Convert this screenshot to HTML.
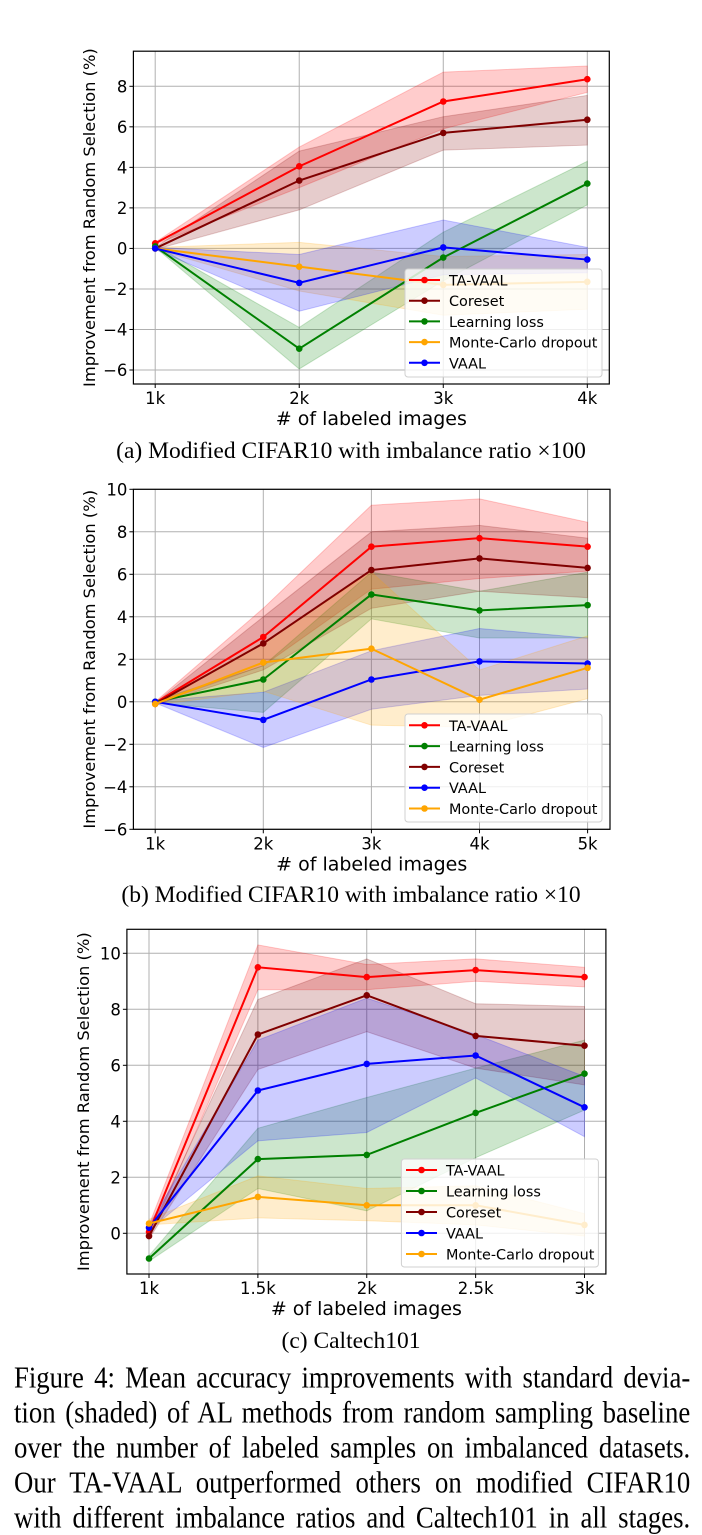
<!DOCTYPE html>
<html><head><meta charset="utf-8">
<style>
body{margin:0;background:#fff;width:702px;height:1534px;overflow:hidden;position:relative;font-family:"Liberation Serif",serif;}
svg{position:absolute;left:0;top:0}
.cap{position:absolute;left:0;width:702px;text-align:center;font-family:"Liberation Serif",serif;font-size:23.5px;color:#000;white-space:nowrap}
.fig{position:absolute;left:14px;width:632px;font-family:"Liberation Serif",serif;font-size:25px;line-height:25px;text-align:justify;text-align-last:justify;transform-origin:0 0;transform:scale(1.07,1.22);white-space:nowrap;color:#000}
</style></head><body>
<svg id="svg" width="702" height="1534"></svg>
<div class="cap" style="top:438px">(a) Modified CIFAR10 with imbalance ratio ×100</div>
<div class="cap" style="top:882px">(b) Modified CIFAR10 with imbalance ratio ×10</div>
<div class="cap" style="top:1328px">(c) Caltech101</div>
<div class="fig" style="top:1363px">Figure 4: Mean accuracy improvements with standard devia-</div>
<div class="fig" style="top:1398px">tion (shaded) of AL methods from random sampling baseline</div>
<div class="fig" style="top:1433px">over the number of labeled samples on imbalanced datasets.</div>
<div class="fig" style="top:1468px">Our TA-VAAL outperformed others on modified CIFAR10</div>
<div class="fig" style="top:1503px">with different imbalance ratios and Caltech101 in all stages.</div>
<script>
// ---- Chart A data ----
const aCats=["1k","2k","3k","4k"];
const aX=[1,2,3,4];
const aTA=[0.25,4.05,7.25,8.35], aTAhi=[0.3,5.0,8.7,9.0], aTAlo=[0.2,3.0,5.9,7.7];
const aCore=[0,3.35,5.7,6.35], aCorehi=[0.05,4.8,6.5,7.55], aCorelo=[-0.05,1.9,4.85,5.1];
const aLL=[0.1,-4.95,-0.45,3.2], aLLhi=[0.15,-3.9,0.8,4.3], aLLlo=[0.05,-5.95,-1.6,2.15];
const aMC=[0,-0.9,-1.8,-1.65], aMChi=[0.05,0.3,-0.4,-0.3], aMClo=[-0.05,-2.1,-3.3,-3.0];
const aVA=[0,-1.7,0.05,-0.55], aVAhi=[0.05,-0.3,1.4,0.05], aVAlo=[-0.05,-3.1,-1.3,-1.2];
const aYTicks=[-6,-4,-2,0,2,4,6,8];
// ---- Chart B data ----
const bCats=["1k","2k","3k","4k","5k"];
const bX=[1,2,3,4,5];
const bTA=[-0.05,3.05,7.3,7.7,7.3], bTAhi=[0,4.4,9.25,9.55,8.45], bTAlo=[-0.1,1.7,5.3,5.8,6.15];
const bLL=[0,1.05,5.05,4.3,4.55], bLLhi=[0.05,1.7,6.1,5.2,6.1], bLLlo=[-0.05,-0.5,3.9,3.0,3.0];
const bCore=[-0.1,2.75,6.2,6.75,6.3], bCorehi=[-0.05,4.0,8.0,8.3,7.7], bCorelo=[-0.15,1.5,4.4,5.2,4.9];
const bVA=[0,-0.85,1.05,1.9,1.8], bVAhi=[0.05,0.45,2.4,3.45,3.0], bVAlo=[-0.05,-2.15,-0.35,0.3,0.6];
const bMC=[-0.1,1.85,2.5,0.1,1.6], bMChi=[-0.05,2.8,6.1,1.5,3.1], bMClo=[-0.15,0.5,-1.1,-1.2,0.15];
const bYTicks=[-6,-4,-2,0,2,4,6,8,10];
// ---- Chart C data ----
const cCats=["1k","1.5k","2k","2.5k","3k"];
const cX=[1,1.5,2,2.5,3];
const cTA=[0.05,9.5,9.15,9.4,9.15], cTAhi=[0.3,10.3,9.6,9.8,9.5], cTAlo=[-0.2,8.7,8.7,9.0,8.8];
const cLL=[-0.9,2.65,2.8,4.3,5.7], cLLhi=[-0.8,3.75,4.85,5.9,6.9], cLLlo=[-1.0,1.6,0.8,2.7,4.4];
const cCore=[-0.1,7.1,8.5,7.05,6.7], cCorehi=[0,8.35,9.8,8.2,8.1], cCorelo=[-0.2,5.85,7.2,5.9,5.3];
const cVA=[0.2,5.1,6.05,6.35,4.5], cVAhi=[0.3,6.9,8.4,7.1,5.6], cVAlo=[0.1,3.3,3.6,5.55,3.45];
const cMC=[0.35,1.3,1.0,1.0,0.3], cMChi=[0.5,2.05,1.6,1.7,0.7], cMClo=[0.3,0.55,0.45,0.3,-0.1];
const cYTicks=[0,2,4,6,8,10];

const NS="http://www.w3.org/2000/svg";
const svg=document.getElementById('svg');
function mk(tag,attrs,parent){const e=document.createElementNS(NS,tag);for(const k in attrs)e.setAttribute(k,attrs[k]);(parent||svg).appendChild(e);return e;}
const COL={"TA-VAAL":"#ff0000","Coreset":"#800000","Learning loss":"#008000","Monte-Carlo dropout":"#ffa500","VAAL":"#0000ff"};

function chart(cfg){
  const g=mk('g',{});
  
  
  const sx=v=>cfg.px0+(v-cfg.x0)*(cfg.px1-cfg.px0)/(cfg.x1-cfg.x0);
  const sy=v=>cfg.py0+(v-cfg.y0)*(cfg.py1-cfg.py0)/(cfg.y1-cfg.y0);
  const F='"DejaVu Sans","Liberation Sans",sans-serif';
  cfg.xs.forEach((v,i)=>{const l=mk('line',{x1:sx(v),x2:sx(v),y1:cfg.top,y2:cfg.bottom,stroke:'#b0b0b0','stroke-width':1},g);
    });
  cfg.yt.forEach(v=>{const l=mk('line',{x1:cfg.left,x2:cfg.right,y1:sy(v),y2:sy(v),stroke:'#b0b0b0','stroke-width':1},g);
    });
  cfg.series.forEach(s=>{
    let d='M'+cfg.xs.map((v,i)=>sx(v)+','+sy(s.hi[i])).join('L')+'L'+cfg.xs.slice().reverse().map((v,j)=>{const i=cfg.xs.length-1-j;return sx(v)+','+sy(s.lo[i]);}).join('L')+'Z';
    const p=mk('path',{d:d,fill:COL[s.n],'fill-opacity':0.2,stroke:COL[s.n],'stroke-opacity':0.2,'stroke-width':1},g);
    
    
  });
  cfg.series.forEach(s=>{
    const pl=mk('polyline',{points:cfg.xs.map((v,i)=>sx(v)+','+sy(s.m[i])).join(' '),fill:'none',stroke:COL[s.n],'stroke-width':2},g);
    
    
    cfg.xs.forEach((v,i)=>{const c=mk('circle',{cx:sx(v),cy:sy(s.m[i]),r:3.3,fill:COL[s.n]},g);
      });
  });
  const fr=mk('rect',{x:cfg.left,y:cfg.top,width:cfg.right-cfg.left,height:cfg.bottom-cfg.top,fill:'none',stroke:'#000','stroke-width':1.2},g);
  
  cfg.xs.forEach((v,i)=>{mk('line',{x1:sx(v),x2:sx(v),y1:cfg.bottom,y2:cfg.bottom+4,stroke:'#000'},g);
    const t=mk('text',{x:sx(v),y:cfg.bottom+20,'text-anchor':'middle','font-family':F,'font-size':16.5},g);t.textContent=cfg.cats[i];
    });
  cfg.yt.forEach(v=>{mk('line',{x1:cfg.left-4,x2:cfg.left,y1:sy(v),y2:sy(v),stroke:'#000'},g);
    const t=mk('text',{x:cfg.left-6,y:sy(v)+6,'text-anchor':'end','font-family':F,'font-size':16.5},g);t.textContent=(v<0?'\u2212'+(-v):v);
    });
  const xl=mk('text',{x:(cfg.left+cfg.right)/2,y:cfg.bottom+41,'text-anchor':'middle','font-family':F,'font-size':19},g);xl.textContent='# of labeled images';
  
  const ycx=cfg.ylx, ycy=(cfg.top+cfg.bottom)/2;
  const yl=mk('text',{x:ycx,y:ycy,'text-anchor':'middle','font-family':F,'font-size':16.3,transform:'rotate(-90 '+ycx+' '+ycy+')'},g);yl.textContent='Improvement from Random Selection (%)';
  
  const L=cfg.leg;
  const lb=mk('rect',{x:L.x,y:L.y,width:L.w,height:L.h,rx:3,fill:'#fff','fill-opacity':0.8,stroke:'#d0d0d0'},g);
  
  cfg.series.forEach((s,i)=>{const yy=L.r0+i*L.dy;
    mk('line',{x1:L.hx,x2:L.hx+31,y1:yy,y2:yy,stroke:COL[s.n],'stroke-width':2},g);
    mk('circle',{cx:L.hx+15.5,cy:yy,r:3.3,fill:COL[s.n]},g);
    const t=mk('text',{x:L.hx+40,y:yy+5.5,'font-family':F,'font-size':14.4},g);t.textContent=s.n;
    });
}

chart({name:'chart-a',cats:aCats,xs:aX,x0:1,x1:4,px0:155.2,px1:587.3,y0:8,y1:-6,py0:86.3,py1:370,
  left:133.4,right:609.3,top:51.2,bottom:384,yt:aYTicks,ylx:95,
  leg:{x:405,y:269,w:197,h:108,hx:409,r0:280,dy:20.7},
  series:[{n:'TA-VAAL',m:aTA,hi:aTAhi,lo:aTAlo},{n:'Coreset',m:aCore,hi:aCorehi,lo:aCorelo},{n:'Learning loss',m:aLL,hi:aLLhi,lo:aLLlo},{n:'Monte-Carlo dropout',m:aMC,hi:aMChi,lo:aMClo},{n:'VAAL',m:aVA,hi:aVAhi,lo:aVAlo}]});
chart({name:'chart-b',cats:bCats,xs:bX,x0:1,x1:5,px0:155.2,px1:587.6,y0:10,y1:-6,py0:489.3,py1:829.3,
  left:133.4,right:610,top:489.3,bottom:829.3,yt:bYTicks,ylx:95,
  leg:{x:405,y:714,w:197,h:108,hx:409,r0:725.3,dy:20.8},
  series:[{n:'TA-VAAL',m:bTA,hi:bTAhi,lo:bTAlo},{n:'Learning loss',m:bLL,hi:bLLhi,lo:bLLlo},{n:'Coreset',m:bCore,hi:bCorehi,lo:bCorelo},{n:'VAAL',m:bVA,hi:bVAhi,lo:bVAlo},{n:'Monte-Carlo dropout',m:bMC,hi:bMChi,lo:bMClo}]});
chart({name:'chart-c',cats:cCats,xs:cX,x0:1,x1:3,px0:149,px1:584.5,y0:10,y1:0,py0:953.3,py1:1233.3,
  left:126.9,right:605.9,top:929.3,bottom:1274,yt:cYTicks,ylx:89,
  leg:{x:401.4,y:1159,w:197,h:108,hx:406,r0:1170,dy:21},
  series:[{n:'TA-VAAL',m:cTA,hi:cTAhi,lo:cTAlo},{n:'Learning loss',m:cLL,hi:cLLhi,lo:cLLlo},{n:'Coreset',m:cCore,hi:cCorehi,lo:cCorelo},{n:'VAAL',m:cVA,hi:cVAhi,lo:cVAlo},{n:'Monte-Carlo dropout',m:cMC,hi:cMChi,lo:cMClo}]});
</script>
</body></html>
